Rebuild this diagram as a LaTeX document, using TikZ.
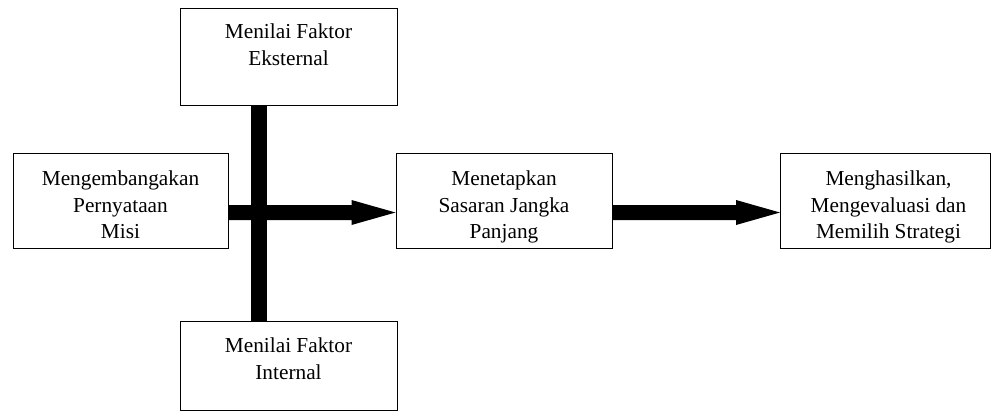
\documentclass[tikz,border=0pt]{standalone}
\usepackage{fontspec}
\setmainfont{Liberation Serif}
\usetikzlibrary{calc}
\begin{document}
\begin{tikzpicture}[x=1pt,y=-1pt,
  box/.style={draw,line width=1pt,rectangle,inner sep=0pt},
  txt/.style={inner sep=0pt,align=center,anchor=north,
    font=\fontsize{21.3}{26.7}\selectfont},
  bar/.style={line width=16pt}]
\useasboundingbox (0,0) rectangle (992,418);
\node[box,minimum width=217pt,minimum height=97pt] (ext) at (288.5,56.5) {};
\node[box,minimum width=215pt,minimum height=95pt] (misi) at (120.5,200.5) {};
\node[box,minimum width=216pt,minimum height=95pt] (sasaran) at (504,200.5) {};
\node[box,minimum width=210pt,minimum height=95pt] (strat) at (885.5,200.5) {};
\node[box,minimum width=217pt,minimum height=89pt] (int) at (288.5,365.5) {};
\node[txt] (extT) at ([yshift=-16.5pt]ext.north) {Menilai Faktor\\Eksternal};
\node[txt] (misiT) at ([yshift=-18pt]misi.north) {Mengembangakan\\Pernyataan\\Misi};
\node[txt] (sasaranT) at ([yshift=-18pt]sasaran.north) {Menetapkan\\Sasaran Jangka\\Panjang};
\node[txt] (stratT) at ([xshift=3pt,yshift=-18pt]strat.north) {Menghasilkan,\\Mengevaluasi dan\\Memilih Strategi};
\node[txt] (intT) at ([yshift=-17pt]int.north) {Menilai Faktor\\Internal};
\fill ($(misi.east)+(0,4.5)$) -- ($(sasaran.west)+(-44,4.5)$) -- ($(sasaran.west)+(-44,-0.5)$)
  -- ($(sasaran.west)+(0,12)$) -- ($(sasaran.west)+(-44,24.5)$) -- ($(sasaran.west)+(-44,19.5)$)
  -- ($(misi.east)+(0,19.5)$) -- cycle;
\fill ($(sasaran.east)+(0,4.5)$) -- ($(strat.west)+(-44,4.5)$) -- ($(strat.west)+(-44,-0.5)$)
  -- ($(strat.west)+(0,12)$) -- ($(strat.west)+(-44,24.5)$) -- ($(strat.west)+(-44,19.5)$)
  -- ($(sasaran.east)+(0,19.5)$) -- cycle;
\draw[bar] ([xshift=-29.5pt]ext.south) -- ([xshift=-29.5pt]int.north);
\end{tikzpicture}
\end{document}
